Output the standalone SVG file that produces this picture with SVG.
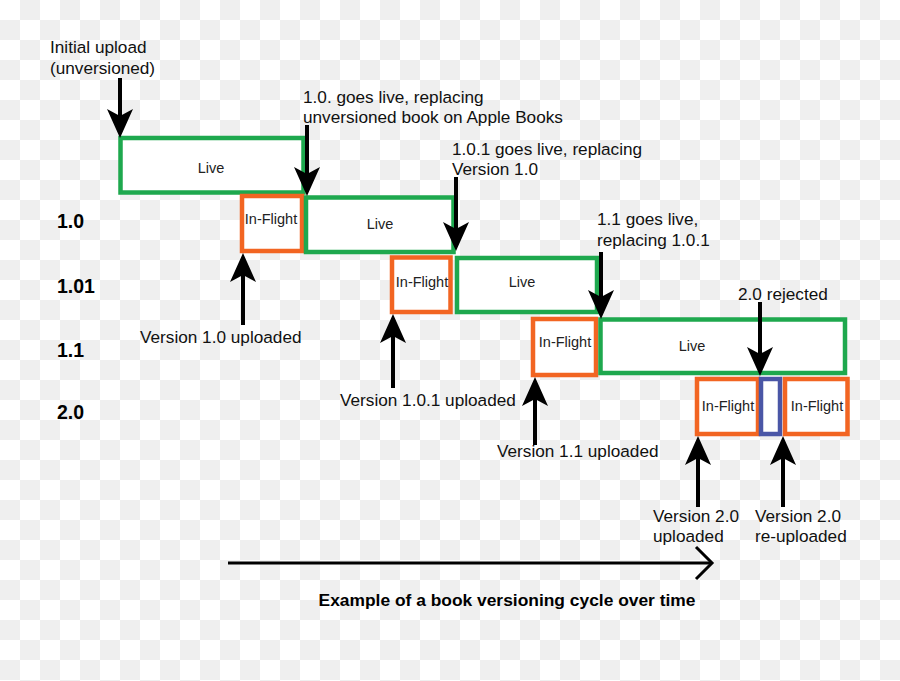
<svg xmlns="http://www.w3.org/2000/svg" width="900" height="681" viewBox="0 0 900 681">
<defs>
<pattern id="checker" patternUnits="userSpaceOnUse" width="40" height="40">
<rect width="40" height="40" fill="#ffffff"/>
<rect x="20" y="0" width="20" height="20" fill="#efefef"/>
<rect x="0" y="20" width="20" height="20" fill="#efefef"/>
</pattern>
<marker id="head" markerUnits="userSpaceOnUse" orient="auto" refX="12" refY="0" markerWidth="32" markerHeight="28" overflow="visible">
<path d="M29,0 L0,-13 L7,0 L0,13 Z" fill="#000"/>
</marker>
<style>
.t{font-family:"Liberation Sans",Arial,sans-serif;font-size:17.2px;fill:#111}
.row{font-family:"Liberation Sans",Arial,sans-serif;font-size:19.5px;font-weight:bold;fill:#000}
.lbl{font-family:"Liberation Sans",Arial,sans-serif;font-size:14.5px;fill:#222;text-anchor:middle}
.cap{font-family:"Liberation Sans",Arial,sans-serif;font-size:17.4px;font-weight:bold;fill:#000;text-anchor:middle}
.live{fill:#fff;stroke:#1ea84e;stroke-width:4.5}
.fl{fill:#fff;stroke:#f26522;stroke-width:4.5}
.rej{fill:#fff;stroke:#4a56a6;stroke-width:4.5}
.ar{stroke:#000;stroke-width:4;fill:none;marker-end:url(#head)}
</style>
</defs>
<rect width="900" height="681" fill="url(#checker)"/>

<g id="row-labels">
<text class="row" x="57" y="228">1.0</text>
<text class="row" x="57" y="293">1.01</text>
<text class="row" x="57" y="357">1.1</text>
<text class="row" x="57" y="419">2.0</text>
</g>

<g id="live-unversioned">
<rect class="live" x="120.5" y="138" width="183" height="54.5"/>
<text class="lbl" x="211" y="173">Live</text>
</g>
<g id="inflight-1-0">
<rect class="fl" x="242" y="196" width="60" height="55"/>
<text class="lbl" x="271" y="224">In-Flight</text>
</g>
<g id="live-1-0">
<rect class="live" x="306" y="197.5" width="147.5" height="54.5"/>
<text class="lbl" x="380" y="229">Live</text>
</g>
<g id="inflight-1-0-1">
<rect class="fl" x="392" y="257.5" width="58.5" height="54.5"/>
<text class="lbl" x="422" y="287">In-Flight</text>
</g>
<g id="live-1-0-1">
<rect class="live" x="457" y="258" width="140" height="54"/>
<text class="lbl" x="522" y="287">Live</text>
</g>
<g id="inflight-1-1">
<rect class="fl" x="533" y="319" width="63" height="56"/>
<text class="lbl" x="565" y="347">In-Flight</text>
</g>
<g id="live-1-1">
<rect class="live" x="600.5" y="319.5" width="244.5" height="53.5"/>
<text class="lbl" x="692" y="351">Live</text>
</g>
<g id="inflight-2-0">
<rect class="fl" x="697" y="379" width="61" height="55"/>
<text class="lbl" x="728" y="411">In-Flight</text>
</g>
<g id="rejected-2-0">
<rect class="rej" x="761" y="379" width="19" height="55"/>
</g>
<g id="inflight-2-0-re">
<rect class="fl" x="785" y="379" width="62.5" height="55"/>
<text class="lbl" x="817" y="411">In-Flight</text>
</g>

<g id="connectors">
<line class="ar" x1="120" y1="78" x2="120" y2="121"/>
<line class="ar" x1="307" y1="125" x2="307" y2="179"/>
<line class="ar" x1="456" y1="177" x2="456" y2="234"/>
<line class="ar" x1="601" y1="252" x2="601" y2="302"/>
<line class="ar" x1="760" y1="302" x2="760" y2="359"/>
<line class="ar" x1="243" y1="325" x2="243" y2="270"/>
<line class="ar" x1="393" y1="388" x2="393" y2="331"/>
<line class="ar" x1="535" y1="445" x2="535" y2="394"/>
<line class="ar" x1="698" y1="507" x2="698" y2="453"/>
<line class="ar" x1="783" y1="507" x2="783" y2="453"/>
<line x1="228" y1="563" x2="711" y2="563" stroke="#000" stroke-width="3"/>
<polyline points="696,547 712,563 696,579" fill="none" stroke="#000" stroke-width="3"/>
</g>

<g id="annotations">
<text class="t" x="50" y="53">Initial upload</text>
<text class="t" x="50" y="74">(unversioned)</text>
<text class="t" x="303" y="103">1.0. goes live, replacing</text>
<text class="t" x="303" y="123">unversioned book on Apple Books</text>
<text class="t" x="452" y="155">1.0.1 goes live, replacing</text>
<text class="t" x="452" y="175">Version 1.0</text>
<text class="t" x="597" y="225">1.1 goes live,</text>
<text class="t" x="597" y="246">replacing 1.0.1</text>
<text class="t" x="738" y="300">2.0 rejected</text>
<text class="t" x="140" y="343">Version 1.0 uploaded</text>
<text class="t" x="340" y="406">Version 1.0.1 uploaded</text>
<text class="t" x="497" y="457">Version 1.1 uploaded</text>
<text class="t" x="653" y="522">Version 2.0</text>
<text class="t" x="653" y="542">uploaded</text>
<text class="t" x="755" y="522">Version 2.0</text>
<text class="t" x="755" y="542">re-uploaded</text>
<text class="cap" x="507" y="606">Example of a book versioning cycle over time</text>
</g>
</svg>
